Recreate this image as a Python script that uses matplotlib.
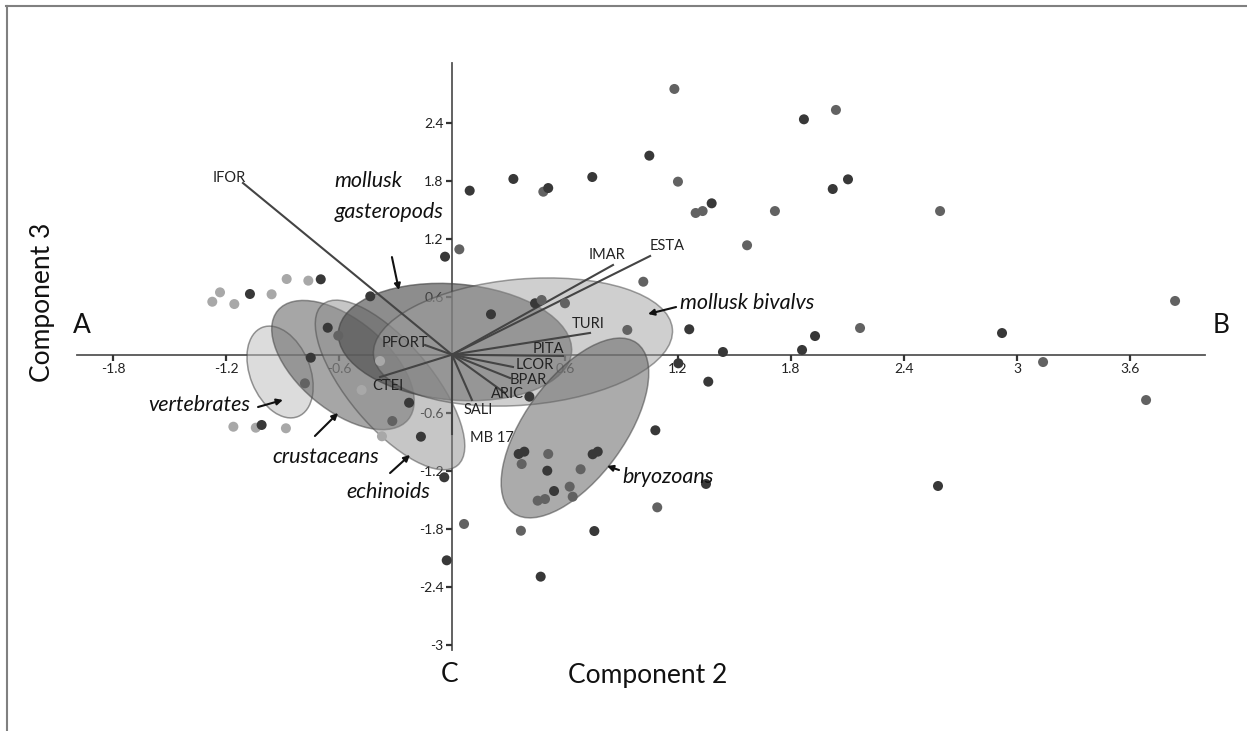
import numpy as np
import matplotlib
matplotlib.use("Agg")
import matplotlib.pyplot as plt
from matplotlib.patches import Ellipse
from matplotlib.transforms import Affine2D
from matplotlib.lines import Line2D

plt.rcParams['font.family'] = ['Lato', 'DejaVu Sans']

# sample scores (component 2, component 3) and shade group
pc2 = [1.181, 2.039, 1.869, 1.048, 0.326, 0.745, 0.094, 0.485, 0.511, 1.200,
       2.022, 2.103, 1.294, 1.331, 1.379, 1.715, 2.592, 1.567, 0.039, -0.037,
       1.016, 3.840, 0.207, 0.441, 0.476, 0.600, 0.931, 1.260, 2.167, 2.921,
       1.928, 1.439, 1.859, 1.202, 3.139, 1.361, 3.686, 0.411, 1.080, 0.354,
       0.384, 0.370, 0.511, 0.506, 0.683, 0.747, 0.774, 0.542, 0.625, 0.641,
       0.455, 0.494, 1.090, 1.349, 2.581, 0.756, 0.366, 0.064, -0.041, -0.028,
       0.471, -0.878, -0.763, -0.697, -1.232, -1.273, -1.073, -1.156, -0.958, -0.434,
       -0.660, -0.604, -0.750, -0.781, -0.480, -0.382, -0.228, -0.317, -0.372, -0.165,
       -1.161, -1.042, -1.011, -0.882]
pc3 = [2.749, 2.532, 2.435, 2.059, 1.818, 1.838, 1.697, 1.686, 1.724, 1.790,
       1.714, 1.814, 1.466, 1.486, 1.566, 1.486, 1.486, 1.132, 1.090, 1.014,
       0.755, 0.556, 0.418, 0.532, 0.566, 0.532, 0.256, 0.263, 0.276, 0.224,
       0.193, 0.028, 0.049, -0.089, -0.076, -0.279, -0.469, -0.434, -0.782, -1.027,
       -1.003, -1.131, -1.027, -1.200, -1.185, -1.030, -1.003, -1.410, -1.365, -1.469,
       -1.510, -1.493, -1.579, -1.337, -1.358, -1.824, -1.821, -1.751, -1.268, -2.127,
       -2.296, 0.783, 0.766, 0.780, 0.645, 0.548, 0.628, 0.524, 0.625, 0.604,
       0.279, 0.197, -0.031, -0.296, -0.365, -0.065, -0.497, -0.686, -0.844, -0.848,
       -0.745, -0.755, -0.727, -0.761]
shade = list("mmdddddmdm" "ddmmdmmmmd" "mmddmmmdmd" "ddddmdmddd" "dmmdmdddmm"
             "mmmdddmmdd" "dlldlldlld" "dmdmlldmld" "lldl")

# loading vectors
var_names = ['IFOR', 'IMAR', 'ESTA', 'TURI', 'PITA', 'LCOR', 'BPAR', 'ARIC',
             'SALI', 'MB 17', 'CTEI', 'PFORT']
var_x = [-1.110, 0.855, 1.052, 0.733, 0.590, 0.324, 0.308, 0.281, 0.106, 0.0, -0.382, -0.143]
var_y = [1.776, 0.928, 1.021, 0.225, -0.013, -0.127, -0.241, -0.396, -0.468, -0.820, -0.231, 0.100]
lab_x = [-1.184, 0.823, 1.142, 0.722, 0.510, 0.441, 0.404, 0.292, 0.138, 0.212, -0.340, -0.250]
lab_y = [1.828, 1.031, 1.124, 0.318, 0.059, -0.106, -0.262, -0.406, -0.572, -0.862, -0.324, 0.121]

# group ellipses: centre (data), half axes (px), angle (deg), fill, alpha
groups = ['vertebrates', 'crustaceans', 'echinoids', 'mollusk gasteropods', 'mollusk bivalvs', 'bryozoans']
ell_cx = [-0.913, -0.579, -0.329, 0.016, 0.377, 0.653]
ell_cy = [-0.179, -0.107, -0.313, 0.131, 0.131, -0.758]
ell_a = [48, 85, 105, 117, 150, 105]
ell_b = [30, 45, 42, 58, 63, 50]
ell_ang = [112, -40, -50, -5, 5, 54]
ell_fc = ['#c0c0c0', '#5e5e5e', '#8e8e8e', '#505050', '#a0a0a0', '#666666']
ell_alpha = [0.55, 0.55, 0.5, 0.65, 0.5, 0.55]

xticks = [-1.8, -1.2, -0.6, 0.6, 1.2, 1.8, 2.4, 3, 3.6]
yticks = [2.4, 1.8, 1.2, 0.6, -0.6, -1.2, -1.8, -2.4, -3]

W, H = 1247, 731
fig = plt.figure(figsize=(W / 100, H / 100), dpi=100)
ax = fig.add_axes([0, 0, 1, 1])
x0, x1 = -2.4004, 4.2220
y0, y1 = -3.8926, 3.6692
ax.set_xlim(x0, x1)
ax.set_ylim(y0, y1)
sx = W / (x1 - x0)
sy = H / (y1 - y0)

# cross axes through the origin
for s in ['top', 'right']:
    ax.spines[s].set_visible(False)
ax.spines['bottom'].set_position(('data', 0))
ax.spines['left'].set_position(('data', 0))
ax.spines['bottom'].set_bounds(-1.99, 4.0)
ax.spines['left'].set_bounds(-3.05, 3.02)
for s in ['bottom', 'left']:
    ax.spines[s].set_color('#555555')
    ax.spines[s].set_linewidth(1.3)
    ax.spines[s].set_zorder(1)
ax.set_xticks(xticks)
ax.set_xticklabels([f'{v:g}' for v in xticks])
ax.set_yticks(yticks)
ax.set_yticklabels([f'{v:g}' for v in yticks])
ax.tick_params(axis='both', direction='out', length=4, width=1.6, color='#333333',
               labelsize=10, labelcolor='#222222', pad=2)

# ellipses, drawn in pixel units then mapped to data
tr = Affine2D().scale(1 / sx, 1 / sy) + ax.transData
for i in range(len(groups)):
    e = Ellipse((ell_cx[i] * sx, ell_cy[i] * sy), 2 * ell_a[i], 2 * ell_b[i], angle=ell_ang[i],
                transform=tr, facecolor=ell_fc[i], alpha=ell_alpha[i],
                edgecolor='#444444', linewidth=1.1, zorder=2)
    ax.add_patch(e)

# samples
cmap = {'d': '#383838', 'm': '#626262', 'l': '#a8a8a8'}
ax.scatter(pc2, pc3, s=52, c=[cmap[k] for k in shade], linewidths=0, zorder=4)

# loading vectors and their names
for i, n in enumerate(var_names):
    ax.plot([0, var_x[i]], [0, var_y[i]], color='#444444', lw=1.5, zorder=3)
    ax.text(lab_x[i], lab_y[i], n, fontsize=10.5, color='#222222', ha='center', va='center', zorder=5)

# group labels with arrows
lab_style = dict(fontsize=15.5, style='italic', color='#111111', zorder=6)
arr = dict(arrowstyle='-|>', color='#111111', lw=1.5, mutation_scale=9, shrinkA=0, shrinkB=0)
ax.text(-0.626, 1.797, 'mollusk', ha='left', va='center', **lab_style)
ax.text(-0.626, 1.476, 'gasteropods', ha='left', va='center', **lab_style)
ax.annotate('', xy=(-0.282, 0.669), xytext=(-0.319, 1.010), arrowprops=arr, zorder=6)
ax.text(1.211, 0.535, 'mollusk bivalvs', ha='left', va='center', **lab_style)
ax.annotate('', xy=(1.041, 0.421), xytext=(1.190, 0.493), arrowprops=arr, zorder=6)
ax.text(-1.073, -0.520, 'vertebrates', ha='right', va='center', **lab_style)
ax.annotate('', xy=(-0.898, -0.468), xytext=(-1.030, -0.541), arrowprops=arr, zorder=6)
ax.text(-0.669, -1.058, 'crustaceans', ha='center', va='center', **lab_style)
ax.annotate('', xy=(-0.605, -0.603), xytext=(-0.728, -0.841), arrowprops=arr, zorder=6)
ax.text(-0.340, -1.420, 'echinoids', ha='center', va='center', **lab_style)
ax.annotate('', xy=(-0.223, -1.037), xytext=(-0.329, -1.224), arrowprops=arr, zorder=6)
ax.text(0.903, -1.265, 'bryozoans', ha='left', va='center', **lab_style)
ax.annotate('', xy=(0.823, -1.151), xytext=(0.887, -1.193), arrowprops=arr, zorder=6)

# axis letters and titles
big = dict(fontsize=19, ha='center', va='center', color='#111111')
ax.text(-1.965, 0.297, 'A', **big)
ax.text(4.084, 0.297, 'B', **big)
ax.text(-0.011, -3.313, 'C', **big)
ax.text(1.041, -3.323, 'Component 2', **big)
ax.text(-2.177, 0.545, 'Component 3', rotation=90, **big)

# frame lines of the page
fig.add_artist(Line2D([6 / W, 1], [1 - 6 / H, 1 - 6 / H], transform=fig.transFigure, color='#808080', lw=1.5))
fig.add_artist(Line2D([7 / W, 7 / W], [0, 1 - 6 / H], transform=fig.transFigure, color='#808080', lw=1.5))

fig.savefig('out.png', dpi=100)
